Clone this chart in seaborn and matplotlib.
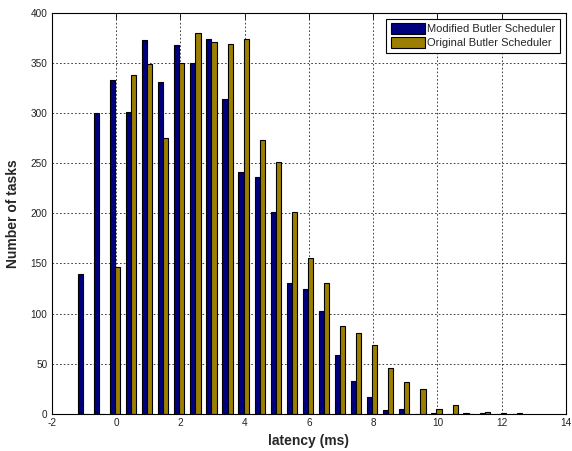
import numpy as np
import pandas as pd
import matplotlib
matplotlib.use("Agg")
import matplotlib.pyplot as plt
import seaborn as sns

# bin centers (ms)
bins = [-1.03, -0.53, -0.03, 0.47, 0.97, 1.47, 1.97, 2.47, 2.97, 3.47,
        3.97, 4.47, 4.97, 5.47, 5.97, 6.47, 6.97, 7.47, 7.97, 8.47,
        8.97, 9.47, 9.97, 10.47, 10.97, 11.47, 11.97, 12.47]
modified = [139, 300, 333, 301, 373, 331, 368, 350, 374, 314,
            241, 236, 201, 131, 125, 103, 59, 33, 17, 4,
            5, 0, 1, 0, 1, 1, 0, 0]
original = [0, 0, 146, 338, 349, 275, 350, 380, 371, 369,
            374, 273, 251, 201, 155, 131, 88, 81, 69, 46,
            32, 25, 5, 9, 0, 2, 1, 1]
series_names = ["Modified Butler Scheduler", "Original Butler Scheduler"]
colors = ["#00007F", "#9C7F00"]
xticks = [-2, 0, 2, 4, 6, 8, 10, 12, 14]
yticks = [0, 50, 100, 150, 200, 250, 300, 350, 400]

df = pd.DataFrame({
    "latency": bins * 2,
    "count": modified + original,
    "series": [series_names[0]] * len(bins) + [series_names[1]] * len(bins),
})

sns.set_style("white")
plt.rcParams["font.family"] = ["Liberation Sans", "DejaVu Sans"]

fig = plt.figure(figsize=(5.72, 4.51), dpi=100)
ax = fig.add_axes([51.7 / 572, 1 - 414 / 451, (566 - 51.7) / 572, (414 - 12.5) / 451])

sns.barplot(data=df, x="latency", y="count", hue="series", hue_order=series_names,
            palette=colors, native_scale=True, dodge=True, width=0.64,
            errorbar=None, saturation=1, edgecolor="black", linewidth=0.8, ax=ax)

ax.set_xlim(-2, 14)
ax.set_ylim(0, 400)
ax.set_xticks(xticks)
ax.set_xticklabels([str(t) for t in xticks], fontsize=7.2)
ax.set_yticks(yticks)
ax.set_yticklabels([str(t) for t in yticks], fontsize=7.2)
ax.tick_params(direction="in", length=4, width=0.6, top=True, right=True,
               pad=3, colors="black")
for lab in ax.get_xticklabels() + ax.get_yticklabels():
    lab.set_color("#222222")
ax.grid(True, linestyle=(0, (2, 2.5)), color="#222222", linewidth=0.6)
ax.set_axisbelow(True)
for s in ax.spines.values():
    s.set_visible(True)
    s.set_color("black")
    s.set_linewidth(0.8)

ax.set_xlabel("latency (ms)", fontsize=10, fontweight="bold", labelpad=4)
ax.set_ylabel("Number of tasks", fontsize=10, fontweight="bold", labelpad=8)

handles, labels = ax.get_legend_handles_labels()
leg = ax.legend(handles, labels, loc="upper right", fontsize=8, frameon=True,
                fancybox=False, edgecolor="black", framealpha=1,
                handlelength=3.1, handleheight=1.1, handletextpad=0.2,
                borderpad=0.4, labelspacing=0.25, borderaxespad=0.55)
leg.get_frame().set_linewidth(0.8)

fig.savefig("out.png", dpi=100, facecolor="white")
